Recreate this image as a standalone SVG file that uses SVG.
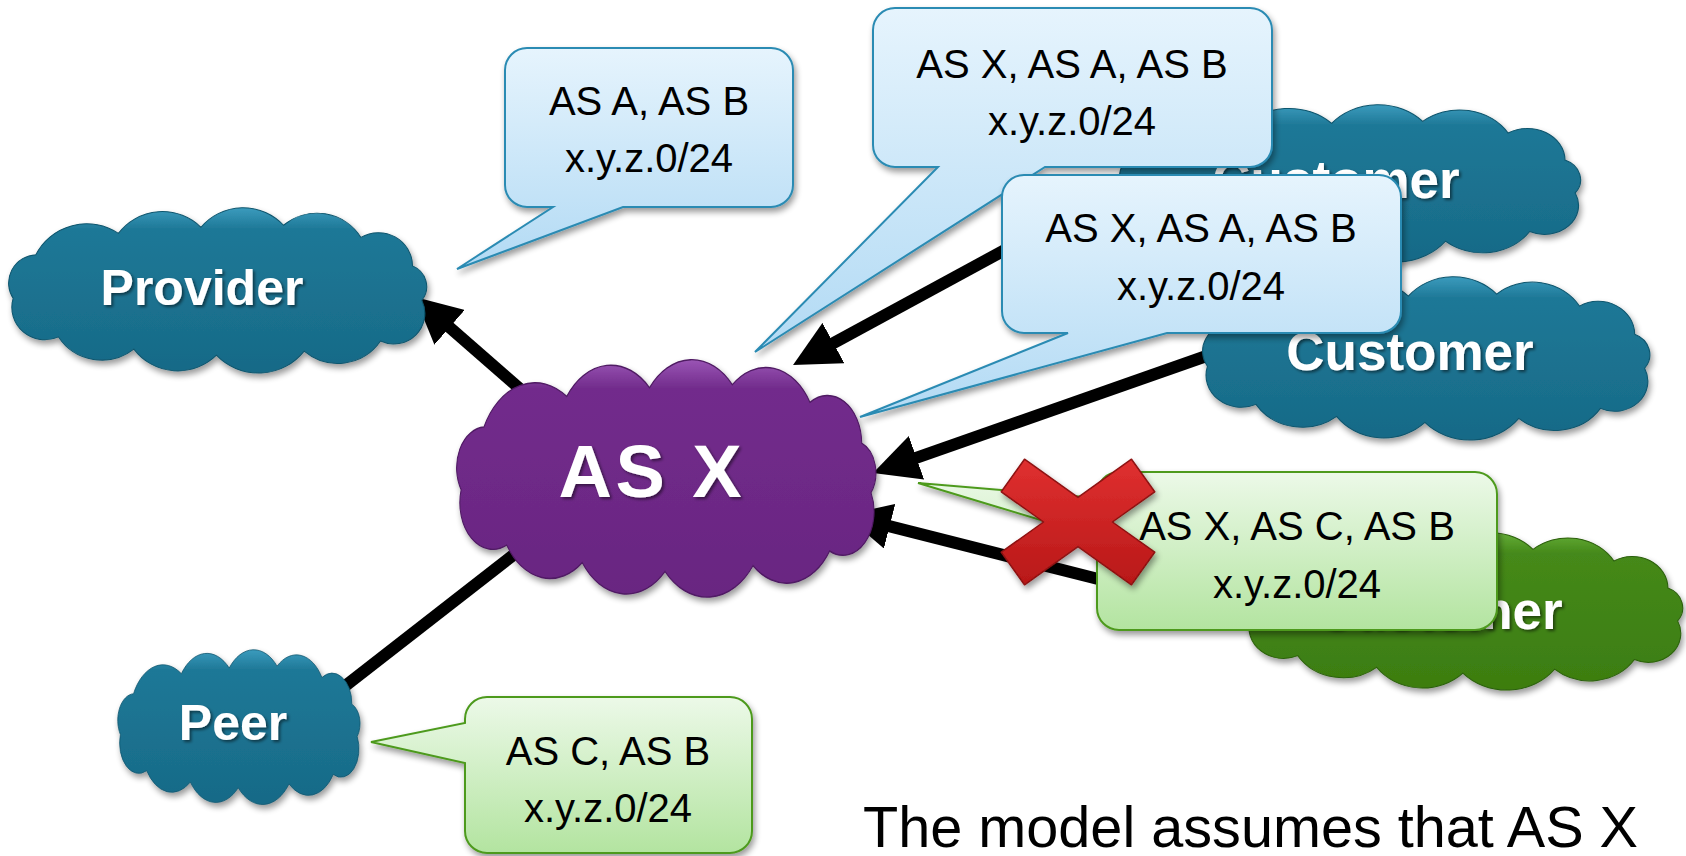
<svg xmlns="http://www.w3.org/2000/svg" xmlns:xlink="http://www.w3.org/1999/xlink" width="1686" height="856" viewBox="0 0 1686 856">
<defs>
<linearGradient id="gTeal" x1="0" y1="0" x2="0" y2="1"><stop offset="0" stop-color="#3b9bbd"/><stop offset="0.13" stop-color="#1e7897"/><stop offset="1" stop-color="#176a87"/></linearGradient>
<linearGradient id="gPurple" x1="0" y1="0" x2="0" y2="1"><stop offset="0" stop-color="#9a55b5"/><stop offset="0.12" stop-color="#722c8c"/><stop offset="1" stop-color="#692581"/></linearGradient>
<linearGradient id="gGreen" x1="0" y1="0" x2="0" y2="1"><stop offset="0" stop-color="#64ad38"/><stop offset="0.13" stop-color="#45891a"/><stop offset="1" stop-color="#3c7d10"/></linearGradient>
<linearGradient id="gBlue" x1="0" y1="0" x2="0" y2="1"><stop offset="0" stop-color="#e6f4fd"/><stop offset="1" stop-color="#b2daf4"/></linearGradient>
<linearGradient id="gLGreen" x1="0" y1="0" x2="0" y2="1"><stop offset="0" stop-color="#ecf9e8"/><stop offset="1" stop-color="#b3e4a0"/></linearGradient>
<linearGradient id="gRed" x1="0" y1="0" x2="0" y2="1"><stop offset="0" stop-color="#e03030"/><stop offset="1" stop-color="#b81818"/></linearGradient>
<filter id="shadow" x="-10%" y="-10%" width="130%" height="140%"><feGaussianBlur in="SourceAlpha" stdDeviation="3"/><feOffset dx="2" dy="4" result="b"/><feComponentTransfer><feFuncA type="linear" slope="0.4"/></feComponentTransfer><feMerge><feMergeNode/><feMergeNode in="SourceGraphic"/></feMerge></filter>
<filter id="tshadow" x="-10%" y="-10%" width="130%" height="140%"><feGaussianBlur in="SourceAlpha" stdDeviation="1.5"/><feOffset dx="2" dy="2" result="b"/><feComponentTransfer><feFuncA type="linear" slope="0.5"/></feComponentTransfer><feMerge><feMergeNode/><feMergeNode in="SourceGraphic"/></feMerge></filter>
<path id="cloud" d="M8,88 A28 28 0 0 1 30,45 A55 55 0 0 1 110,24 A53 53 0 0 1 190,18 A53 53 0 0 1 270,16 A50 50 0 0 1 345,28 A33 33 0 0 1 395,56 A22 22 0 0 1 404,90 A30 30 0 0 1 364,130 A50 50 0 0 1 290,140 A56 56 0 0 1 205,144 A53 53 0 0 1 125,138 A50 50 0 0 1 52,126 A32 32 0 0 1 8,88 Z"/>
<marker id="ah" viewBox="0 0 46 46" refX="26" refY="23" markerWidth="46" markerHeight="46" markerUnits="userSpaceOnUse" orient="auto"><path d="M0,0 L46,23 L0,46 Z" fill="#000"/></marker>
</defs>
<style>
.teal{fill:url(#gTeal);stroke:#11566e;stroke-width:1}
.purple{fill:url(#gPurple);stroke:#4f1a63;stroke-width:1}
.green{fill:url(#gGreen);stroke:#2c600a;stroke-width:1}
.cl{font-family:"Liberation Sans",Arial,sans-serif;font-weight:bold;fill:#fff;text-anchor:middle}
.bc{fill:url(#gBlue);stroke:#2b8bb3;stroke-width:2}
.gc{fill:url(#gLGreen);stroke:#4d9a1e;stroke-width:2}
.ct{font-family:"Liberation Sans",Arial,sans-serif;font-size:40px;fill:#000;text-anchor:middle}
.ln{stroke:#000;stroke-width:12;fill:none}
</style>
<rect width="1686" height="856" fill="#fff"/>
<g id="connectors">
<line class="ln" x1="535" y1="402" x2="430" y2="310.2" marker-end="url(#ah)"/>
<line class="ln" x1="1130" y1="182" x2="810.6" y2="355.5" marker-end="url(#ah)"/>
<line class="ln" x1="1215" y1="353" x2="891.9" y2="466.4" marker-end="url(#ah)"/>
<line class="ln" x1="1110" y1="582" x2="864.4" y2="519.9" marker-end="url(#ah)"/>
<line class="ln" x1="530" y1="542" x2="340" y2="690"/>
</g>
<g id="provider">
<g filter="url(#shadow)"><use xlink:href="#cloud" href="#cloud" class="teal" transform="translate(9,208) scale(1.032,1.015) translate(-4,1)"/></g>
<text class="cl" x="202" y="305" font-size="50" filter="url(#tshadow)">Provider</text>
</g>
<g id="peer">
<g filter="url(#shadow)"><use xlink:href="#cloud" href="#cloud" class="teal" transform="translate(118,650) scale(0.598,0.95) translate(-4,1)"/></g>
<text class="cl" x="233" y="740" font-size="50" filter="url(#tshadow)">Peer</text>
</g>
<g id="asx">
<g filter="url(#shadow)"><use xlink:href="#cloud" href="#cloud" class="purple" transform="translate(457,360) scale(1.035,1.458) translate(-4,1)"/></g>
<text class="cl" x="650" y="497" font-size="74" textLength="183" lengthAdjust="spacing" filter="url(#tshadow)">AS X</text>
</g>
<g id="customer1">
<g filter="url(#shadow)"><use xlink:href="#cloud" href="#cloud" class="teal" transform="translate(1120,105) scale(1.138,0.966) translate(-4,1)"/></g>
<text class="cl" x="1336" y="198" font-size="53" filter="url(#tshadow)">Customer</text>
</g>
<g id="customer2">
<g filter="url(#shadow)"><use xlink:href="#cloud" href="#cloud" class="teal" transform="translate(1203,277) scale(1.104,1.003) translate(-4,1)"/></g>
<text class="cl" x="1410" y="370" font-size="53" filter="url(#tshadow)">Customer</text>
</g>
<g id="customer3">
<g filter="url(#shadow)"><use xlink:href="#cloud" href="#cloud" class="green" transform="translate(1246,533) scale(1.079,0.966) translate(-4,1)"/></g>
<text class="cl" x="1439" y="629" font-size="53" filter="url(#tshadow)">Customer</text>
</g>
<g id="callout-provider">
<path class="bc" filter="url(#shadow)" d="M527,48 H771 A22 22 0 0 1 793,70 V185 A22 22 0 0 1 771,207 H623 L457,269 L553,207 H527 A22 22 0 0 1 505,185 V70 A22 22 0 0 1 527,48 Z"/>
<text class="ct" x="649" y="115">AS A, AS B</text>
<text class="ct" x="649" y="172">x.y.z.0/24</text>
</g>
<g id="callout-asx1">
<path class="bc" filter="url(#shadow)" d="M895,8 H1250 A22 22 0 0 1 1272,30 V145 A22 22 0 0 1 1250,167 H1045 L755,352 L938,167 H895 A22 22 0 0 1 873,145 V30 A22 22 0 0 1 895,8 Z"/>
<text class="ct" x="1072" y="78">AS X, AS A, AS B</text>
<text class="ct" x="1072" y="135">x.y.z.0/24</text>
</g>
<g id="callout-asx2">
<path class="bc" filter="url(#shadow)" d="M1024,175 H1379 A22 22 0 0 1 1401,197 V311 A22 22 0 0 1 1379,333 H1167 L860,417 L1068,333 H1024 A22 22 0 0 1 1002,311 V197 A22 22 0 0 1 1024,175 Z"/>
<text class="ct" x="1201" y="242">AS X, AS A, AS B</text>
<text class="ct" x="1201" y="300">x.y.z.0/24</text>
</g>
<g id="callout-peer">
<path class="gc" filter="url(#shadow)" d="M487,697 H730 A22 22 0 0 1 752,719 V831 A22 22 0 0 1 730,853 H487 A22 22 0 0 1 465,831 V763 L371,742 L465,723 V719 A22 22 0 0 1 487,697 Z"/>
<text class="ct" x="608" y="765">AS C, AS B</text>
<text class="ct" x="608" y="822">x.y.z.0/24</text>
</g>
<g id="callout-bad">
<path class="gc" filter="url(#shadow)" d="M1119,472 H1475 A22 22 0 0 1 1497,494 V608 A22 22 0 0 1 1475,630 H1119 A22 22 0 0 1 1097,608 V537 L918,483 L1097,498 V494 A22 22 0 0 1 1119,472 Z"/>
<text class="ct" x="1297" y="540">AS X, AS C, AS B</text>
<text class="ct" x="1297" y="598">x.y.z.0/24</text>
</g>
<g id="cross">
<polygon filter="url(#shadow)" fill="url(#gRed)" stroke="#8e1212" stroke-width="1.5" stroke-linejoin="round" transform="translate(1078,522)" points="-53.5,-62.8 0,-24.6 53.5,-62.8 76.7,-30.2 34.4,0 76.7,30.2 53.5,62.8 0,24.6 -53.5,62.8 -76.7,30.2 -34.4,0 -76.7,-30.2"/>
</g>
<text x="863" y="847" font-family="'Liberation Sans',Arial,sans-serif" font-size="57" fill="#000" textLength="775" lengthAdjust="spacingAndGlyphs">The model assumes that AS X</text>
</svg>
